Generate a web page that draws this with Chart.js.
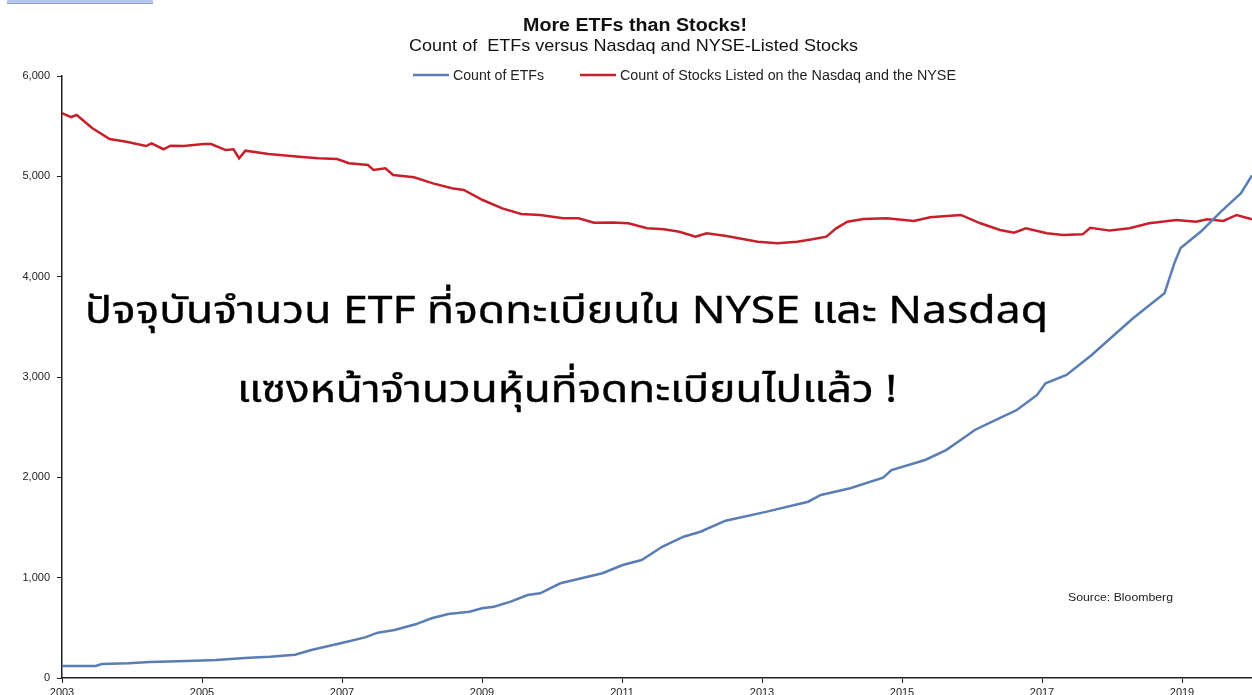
<!DOCTYPE html>
<html>
<head>
<meta charset="utf-8">
<script src="https://cdn.jsdelivr.net/npm/chart.js@4/dist/chart.umd.min.js"></script>
<style>
  html, body { margin: 0; padding: 0; background: #fff; overflow: hidden; width: 1252px; height: 695px; }
  #wrap { position: relative; width: 1252px; height: 712px; }
  #topbar { position: absolute; left: 7px; top: 0; width: 146px; height: 3px; background: #b7c6ea; border-bottom: 1px solid #8ea3d3; }
</style>
</head>
<body>
<div id="wrap">
  <canvas id="c" width="1252" height="712"></canvas>
  <div id="topbar"></div>
</div>
<script>
const chartTitle = "More ETFs than Stocks!";
const chartSubtitle = "Count of  ETFs versus Nasdaq and NYSE-Listed Stocks";
const seriesNames = ["Count of ETFs", "Count of Stocks Listed on the Nasdaq and the NYSE"];
const sourceText = "Source: Bloomberg";
const overlayLines = ["ปัจจุบันจำนวน ETF ที่จดทะเบียนใน NYSE และ Nasdaq", "แซงหน้าจำนวนหุ้นที่จดทะเบียนไปแล้ว !"];

const tickYears = [2003, 2005, 2007, 2009, 2011, 2013, 2015, 2017, 2019];
const yTicks = [0, 1000, 2000, 3000, 4000, 5000, 6000];

const etfYears = [2003.00, 2003.48, 2003.57, 2003.95, 2004.25, 2004.78, 2005.20, 2005.67, 2005.97, 2006.33,
  2006.56, 2006.98, 2007.33, 2007.51, 2007.75, 2008.05, 2008.28, 2008.52, 2008.82, 2009.00,
  2009.17, 2009.41, 2009.65, 2009.83, 2010.12, 2010.42, 2010.72, 2011.01, 2011.28, 2011.58,
  2011.88, 2012.12, 2012.48, 2013.07, 2013.66, 2013.84, 2014.26, 2014.73, 2014.85, 2015.33,
  2015.63, 2015.92, 2016.04, 2016.34, 2016.64, 2016.93, 2017.05, 2017.35, 2017.71, 2017.95,
  2018.30, 2018.75, 2018.89, 2018.98, 2019.27, 2019.56, 2019.84, 2020.00];
const etfCounts = [120, 120, 140, 146, 159, 169, 179, 202, 213, 232,
  279, 346, 405, 452, 478, 535, 595, 638, 661, 695,
  711, 761, 827, 844, 944, 994, 1044, 1126, 1176, 1310,
  1408, 1458, 1568, 1658, 1757, 1824, 1891, 1996, 2073, 2173,
  2272, 2412, 2472, 2572, 2671, 2821, 2937, 3020, 3219, 3369,
  3585, 3834, 4133, 4286, 4450, 4650, 4830, 5010];

const stockYears = [2003.00, 2003.13, 2003.21, 2003.43, 2003.68, 2003.92, 2004.20, 2004.28, 2004.45, 2004.55,
  2004.74, 2005.02, 2005.13, 2005.34, 2005.45, 2005.53, 2005.62, 2005.95, 2006.39, 2006.66,
  2006.93, 2007.10, 2007.37, 2007.45, 2007.62, 2007.73, 2008.03, 2008.30, 2008.57, 2008.74,
  2009.01, 2009.29, 2009.56, 2009.83, 2010.16, 2010.38, 2010.60, 2010.87, 2011.09, 2011.36,
  2011.60, 2011.82, 2012.05, 2012.21, 2012.49, 2012.94, 2013.22, 2013.50, 2013.72, 2013.92,
  2014.06, 2014.22, 2014.45, 2014.78, 2015.17, 2015.40, 2015.84, 2016.12, 2016.40, 2016.60,
  2016.77, 2017.07, 2017.30, 2017.58, 2017.69, 2017.97, 2018.25, 2018.53, 2018.92, 2019.20,
  2019.36, 2019.59, 2019.78, 2020.00];
const stockCounts = [5630, 5591, 5611, 5482, 5372, 5345, 5302, 5329, 5270, 5305,
  5302, 5322, 5322, 5262, 5270, 5180, 5256, 5223, 5196, 5180,
  5173, 5130, 5113, 5063, 5080, 5013, 4990, 4930, 4881, 4864,
  4764, 4681, 4625, 4615, 4582, 4582, 4538, 4541, 4532, 4482,
  4472, 4448, 4399, 4432, 4405, 4349, 4332, 4349, 4372, 4399,
  4482, 4548, 4575, 4582, 4555, 4592, 4615, 4532, 4465, 4439,
  4482, 4432, 4415, 4422, 4488, 4459, 4482, 4532, 4565, 4548,
  4572, 4555, 4615, 4572];

const blue = "#5a7db4";
const red = "#c8202b";

const pts = (xs, ys) => xs.map((x, i) => ({ x: x, y: ys[i] }));

// draw text so that it spans [x0, x1] horizontally (condensed/expanded like the original)
function fitText(ctx, text, x0, x1, y, strokeW) {
  const w = ctx.measureText(text).width;
  const sx = (x1 - x0) / w;
  ctx.save();
  ctx.translate(x0, y);
  ctx.scale(sx, 1);
  ctx.textAlign = "left";
  ctx.fillText(text, 0, 0);
  if (strokeW) {
    ctx.lineWidth = strokeW;
    ctx.strokeStyle = ctx.fillStyle;
    ctx.lineJoin = "round";
    ctx.strokeText(text, 0, 0);
  }
  ctx.restore();
  return sx;
}

const decor = {
  id: "decor",
  afterDraw(chart) {
    const ctx = chart.ctx;
    ctx.save();
    ctx.fillStyle = "#111";
    ctx.textBaseline = "alphabetic";
    // Title and subtitle
    ctx.font = "bold 18px 'Liberation Sans', Arial, sans-serif";
    fitText(ctx, chartTitle, 523, 747, 31);
    ctx.font = "17px 'Liberation Sans Narrow', 'Liberation Sans', Arial, sans-serif";
    fitText(ctx, chartSubtitle, 409, 858, 51);
    // Legend
    ctx.lineWidth = 2.5;
    ctx.strokeStyle = blue;
    ctx.beginPath(); ctx.moveTo(413, 75); ctx.lineTo(449, 75); ctx.stroke();
    ctx.strokeStyle = red;
    ctx.beginPath(); ctx.moveTo(580, 75); ctx.lineTo(616, 75); ctx.stroke();
    ctx.fillStyle = "#222";
    ctx.font = "14px 'Liberation Sans Narrow', 'Liberation Sans', Arial, sans-serif";
    fitText(ctx, seriesNames[0], 453, 544, 80);
    fitText(ctx, seriesNames[1], 620, 956, 80);
    // Source
    ctx.font = "11px 'Liberation Sans', Arial, sans-serif";
    fitText(ctx, sourceText, 1068, 1173, 601);
    // Overlay Thai text
    ctx.fillStyle = "#000";
    ctx.font = "38px 'Noto Sans Thai', 'Noto Sans', 'DejaVu Sans', sans-serif";
    fitText(ctx, overlayLines[0], 85, 1048, 323, 0.4);
    fitText(ctx, overlayLines[1], 237, 897, 402, 0.4);
    ctx.restore();
  }
};

new Chart(document.getElementById("c"), {
  type: "line",
  data: {
    datasets: [
      { label: seriesNames[0], data: pts(etfYears, etfCounts), borderColor: blue, borderWidth: 2.5, pointRadius: 0, tension: 0 },
      { label: seriesNames[1], data: pts(stockYears, stockCounts), borderColor: red, borderWidth: 2.5, pointRadius: 0, tension: 0 }
    ]
  },
  options: {
    responsive: false,
    animation: false,
    devicePixelRatio: 1,
    layout: { padding: { top: 76, left: 0, right: 0, bottom: 0 } },
    plugins: { legend: { display: false }, title: { display: false }, tooltip: { enabled: false } },
    scales: {
      x: {
        type: "linear",
        min: 2003,
        max: 2020,
        afterFit: s => { s.height = 34; },
        afterBuildTicks: s => { s.ticks = tickYears.map(v => ({ value: v })); },
        grid: { drawOnChartArea: false, drawTicks: true, tickLength: 5, color: "#222" },
        border: { color: "#222", width: 1.5 },
        ticks: { color: "#222", padding: 3, maxRotation: 0, autoSkip: false, font: { family: "'Liberation Sans', Arial, sans-serif", size: 11 }, callback: v => String(v) }
      },
      y: {
        min: 0,
        max: 6000,
        afterFit: s => { s.width = 62; },
        afterBuildTicks: s => { s.ticks = yTicks.map(v => ({ value: v })); },
        grid: { drawOnChartArea: false, drawTicks: true, tickLength: 5, color: "#222" },
        border: { color: "#222", width: 1.5 },
        ticks: { color: "#222", padding: 7, font: { family: "'Liberation Sans', Arial, sans-serif", size: 11 }, callback: v => v.toLocaleString("en-US") }
      }
    }
  },
  plugins: [decor]
});
</script>
</body>
</html>
